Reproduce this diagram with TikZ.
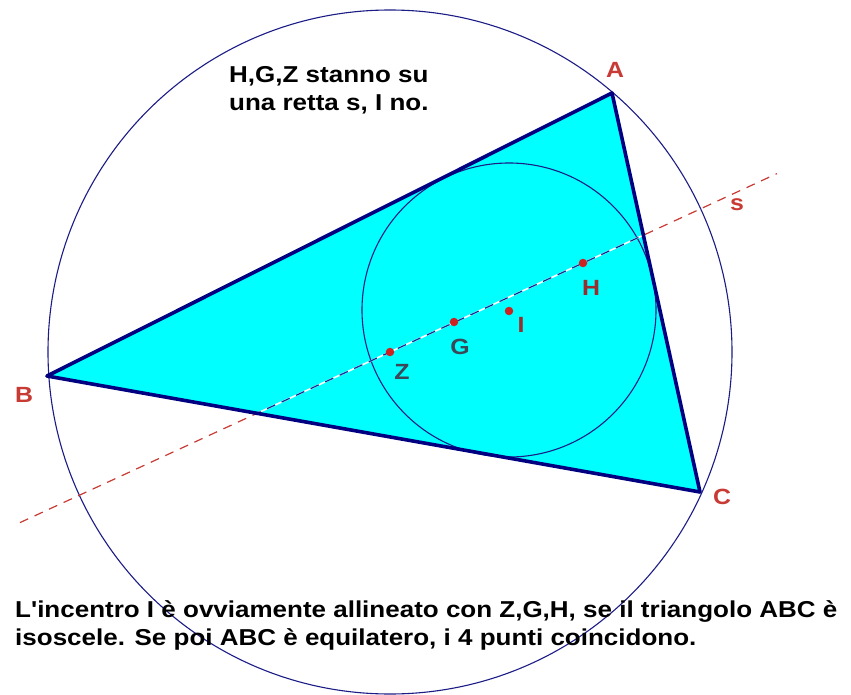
\documentclass[tikz,border=0pt]{standalone}
\usepackage{fontspec}
\setmainfont{Liberation Sans}[Ligatures=TeXOff, FakeStretch=1.13]
\definecolor{navy}{HTML}{000080}
\definecolor{circ}{HTML}{1C1C86}
\definecolor{lblred}{HTML}{C83A34}
\definecolor{dotred}{HTML}{CC2222}
\definecolor{cyanfill}{HTML}{00FFFF}
\definecolor{inlbl}{HTML}{9A2E2E}
\definecolor{ingray}{HTML}{3A4858}
\begin{document}
\begin{tikzpicture}[x=1pt,y=-1pt,
  txt/.style={font=\fontsize{23}{28}\selectfont\bfseries, inner sep=0pt, text=black},
  lbl/.style={font=\fontsize{22}{24}\selectfont\bfseries, inner sep=0pt, text=lblred},
  ptdot/.style={circle, fill=dotred, minimum size=8.5pt, inner sep=0pt},
  circline/.style={draw=circ, line width=1.1pt},
  sline/.style={line width=1.2pt, dash pattern=on 9pt off 7pt}]
\useasboundingbox (0,0) rectangle (851,695);
\fill[white] (0,0) rectangle (851,695);
% vertices
\coordinate (A) at (612,93);
\coordinate (B) at (47,376);
\coordinate (C) at (700,492);
% special points
\coordinate (Zc) at (390,352);
\coordinate (Gc) at (454,322);
\coordinate (Ic) at (509,311);
\coordinate (Hc) at (583,263);
\coordinate (sL) at (20,522.6);
\coordinate (sR) at (777,173.6);
% triangle
\fill[cyanfill] (A) -- (B) -- (C) -- cycle;
% circles
\draw[circline] (Zc) circle[radius=342];
\draw[circline] (509,310) circle[radius=147];
% line s
\draw[sline, draw=lblred] (sL) -- (sR);
\begin{scope}
\clip (A) -- (B) -- (C) -- cycle;
\draw[line width=1.6pt, white] (sL) -- (sR);
\draw[sline, draw=navy!80!cyan] (sL) -- (sR);
\end{scope}
\draw[navy, line width=3.6pt, line join=round] (A) -- (B) -- (C) -- cycle;
% dots
\node[ptdot] (Z) at (Zc) {};
\node[ptdot] (G) at (Gc) {};
\node[ptdot] (I) at (Ic) {};
\node[ptdot] (H) at (Hc) {};
% labels
\node[lbl] (lA) at (615,70) {A};
\node[lbl] (lB) at (24,395) {B};
\node[lbl] (lC) at (722,497) {C};
\node[lbl] (ls) at (737,205) {s};
\node[lbl, text=inlbl] (lH) at (591,288) {H};
\node[lbl, text=ingray] (lG) at (460,347) {G};
\node[lbl, text=inlbl] (lI) at (521,325) {I};
\node[lbl, text=ingray] (lZ) at (402,372) {Z};
% texts
\node[txt, anchor=base west] (t1) at (229,83) {H,G,Z stanno su};
\node[txt, anchor=base west] (t2) at (229,111) {una retta s, I no.};
\node[txt, anchor=base west] (b1) at (15,617) {L'incentro I è ovviamente allineato con Z,G,H, se il triangolo ABC è};
\node[txt, anchor=base west] (b2) at (15,645) {isoscele. Se poi ABC è equilatero, i 4 punti coincidono.};
\end{tikzpicture}
\end{document}
